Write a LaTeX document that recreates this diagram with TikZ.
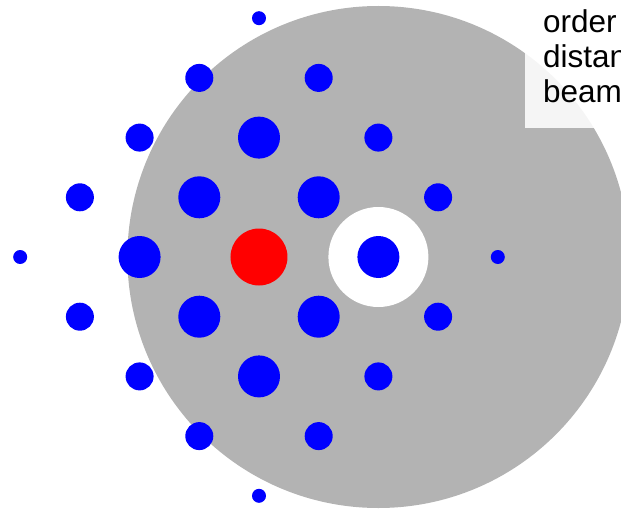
\documentclass[tikz,border=0pt]{standalone}
\usepackage{xcolor}
\usepackage{fontspec}
\setmainfont{Liberation Sans}
\usetikzlibrary{positioning}

\definecolor{plate}{RGB}{179,179,179}

\tikzset{
  spot/.style={circle, fill=blue, inner sep=0pt},
  spotL/.style={spot, minimum size=42pt},
  spotM/.style={spot, minimum size=28pt},
  spotS/.style={spot, minimum size=14pt},
  focus/.style={circle, fill=red, inner sep=0pt, minimum size=57pt},
  note/.style={font=\fontsize{31.5}{34.5}\selectfont, inner sep=0pt},
}

\begin{document}
\begin{tikzpicture}[x=59.7pt, y=59.7pt]
        \useasboundingbox (-259pt,-252pt) rectangle (362pt,257pt);

        % aperture plate and hole
        \coordinate (hole) at (2,0);
        \fill[plate] (hole) circle (251pt);
        \fill[white] (hole) circle (50pt);

        % spots of the lattice
        \node[focus] (f0) at (0,0) {};
        \foreach \i/\j [count=\n] in {0/2,-1/1,1/1,-2/0,2/0,-1/-1,1/-1,0/-2}
            \node[spotL] (big\n) at (\i,\j) {};
        \foreach \i/\j [count=\n] in {-1/3,1/3,-2/2,2/2,-3/1,3/1,-3/-1,3/-1,-2/-2,2/-2,-1/-3,1/-3}
            \node[spotM] (mid\n) at (\i,\j) {};
        \foreach \i/\j [count=\n] in {0/4,-4/0,4/0,0/-4}
            \node[spotS] (far\n) at (\i,\j) {};

        % legend box
        \fill[white, fill opacity=0.88] (266pt,129pt) rectangle (370pt,262pt);
        \foreach \w [count=\k] in {order,distan,beam}
            \node[note, anchor=base west] (word\k) at (284pt,258.5pt-34.5pt*\k) {\w};
\end{tikzpicture}
\end{document}
